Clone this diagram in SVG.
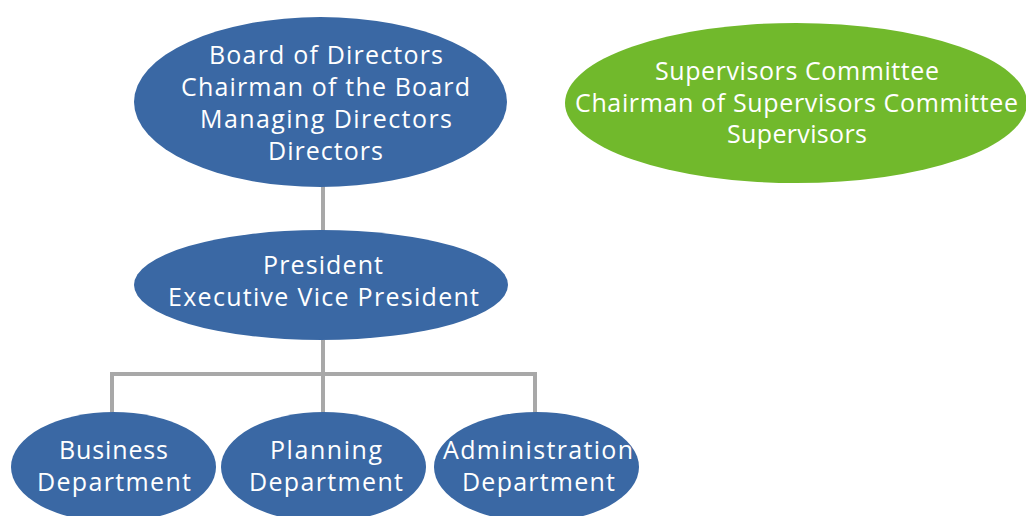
<svg xmlns="http://www.w3.org/2000/svg" width="1026" height="516" viewBox="0 0 1026 516">
<style>
.blue{fill:#3A68A4}
.green{fill:#71B92C}
.t{font-family:"Open Sans","Liberation Sans",sans-serif;font-size:25px;fill:#FFFFFF;text-anchor:middle}
.c{fill:none;stroke:#A8A8A8;stroke-width:4}
</style>
<rect width="1026" height="516" fill="#FFFFFF"/>
<g id="connectors">
<path class="c" d="M323 186V232"/>
<path class="c" d="M323 340V374M112 413V374H535V413M323 374V413"/>
</g>
<g id="board">
<ellipse class="blue" cx="320.5" cy="102" rx="186.5" ry="85"/>
<text class="t" x="326" y="64" textLength="234" lengthAdjust="spacing">Board of Directors</text>
<text class="t" x="325.5" y="96" textLength="289" lengthAdjust="spacing">Chairman of the Board</text>
<text class="t" x="326" y="128" textLength="252" lengthAdjust="spacing">Managing Directors</text>
<text class="t" x="325.5" y="160" textLength="115" lengthAdjust="spacing">Directors</text>
</g>
<g id="supervisors">
<ellipse class="green" cx="796" cy="103" rx="231" ry="80"/>
<text class="t" x="797" y="80" textLength="284" lengthAdjust="spacing">Supervisors Committee</text>
<text class="t" x="796.5" y="112" textLength="443" lengthAdjust="spacing">Chairman of Supervisors Committee</text>
<text class="t" x="797" y="143" textLength="140" lengthAdjust="spacing">Supervisors</text>
</g>
<g id="president">
<ellipse class="blue" cx="321" cy="285" rx="187" ry="55"/>
<text class="t" x="323" y="274" textLength="120" lengthAdjust="spacing">President</text>
<text class="t" x="323.5" y="306" textLength="311" lengthAdjust="spacing">Executive Vice President</text>
</g>
<g id="business">
<ellipse class="blue" cx="113.5" cy="467" rx="102.5" ry="55"/>
<text class="t" x="113.5" y="459" textLength="109" lengthAdjust="spacing">Business</text>
<text class="t" x="114" y="491" textLength="154" lengthAdjust="spacing">Department</text>
</g>
<g id="planning">
<ellipse class="blue" cx="323.5" cy="467" rx="102.5" ry="55"/>
<text class="t" x="326" y="459" textLength="112" lengthAdjust="spacing">Planning</text>
<text class="t" x="326" y="491" textLength="154" lengthAdjust="spacing">Department</text>
</g>
<g id="administration">
<ellipse class="blue" cx="536.5" cy="467" rx="102.5" ry="55"/>
<text class="t" x="538" y="459" textLength="190" lengthAdjust="spacing">Administration</text>
<text class="t" x="538.5" y="491" textLength="153" lengthAdjust="spacing">Department</text>
</g>
</svg>
